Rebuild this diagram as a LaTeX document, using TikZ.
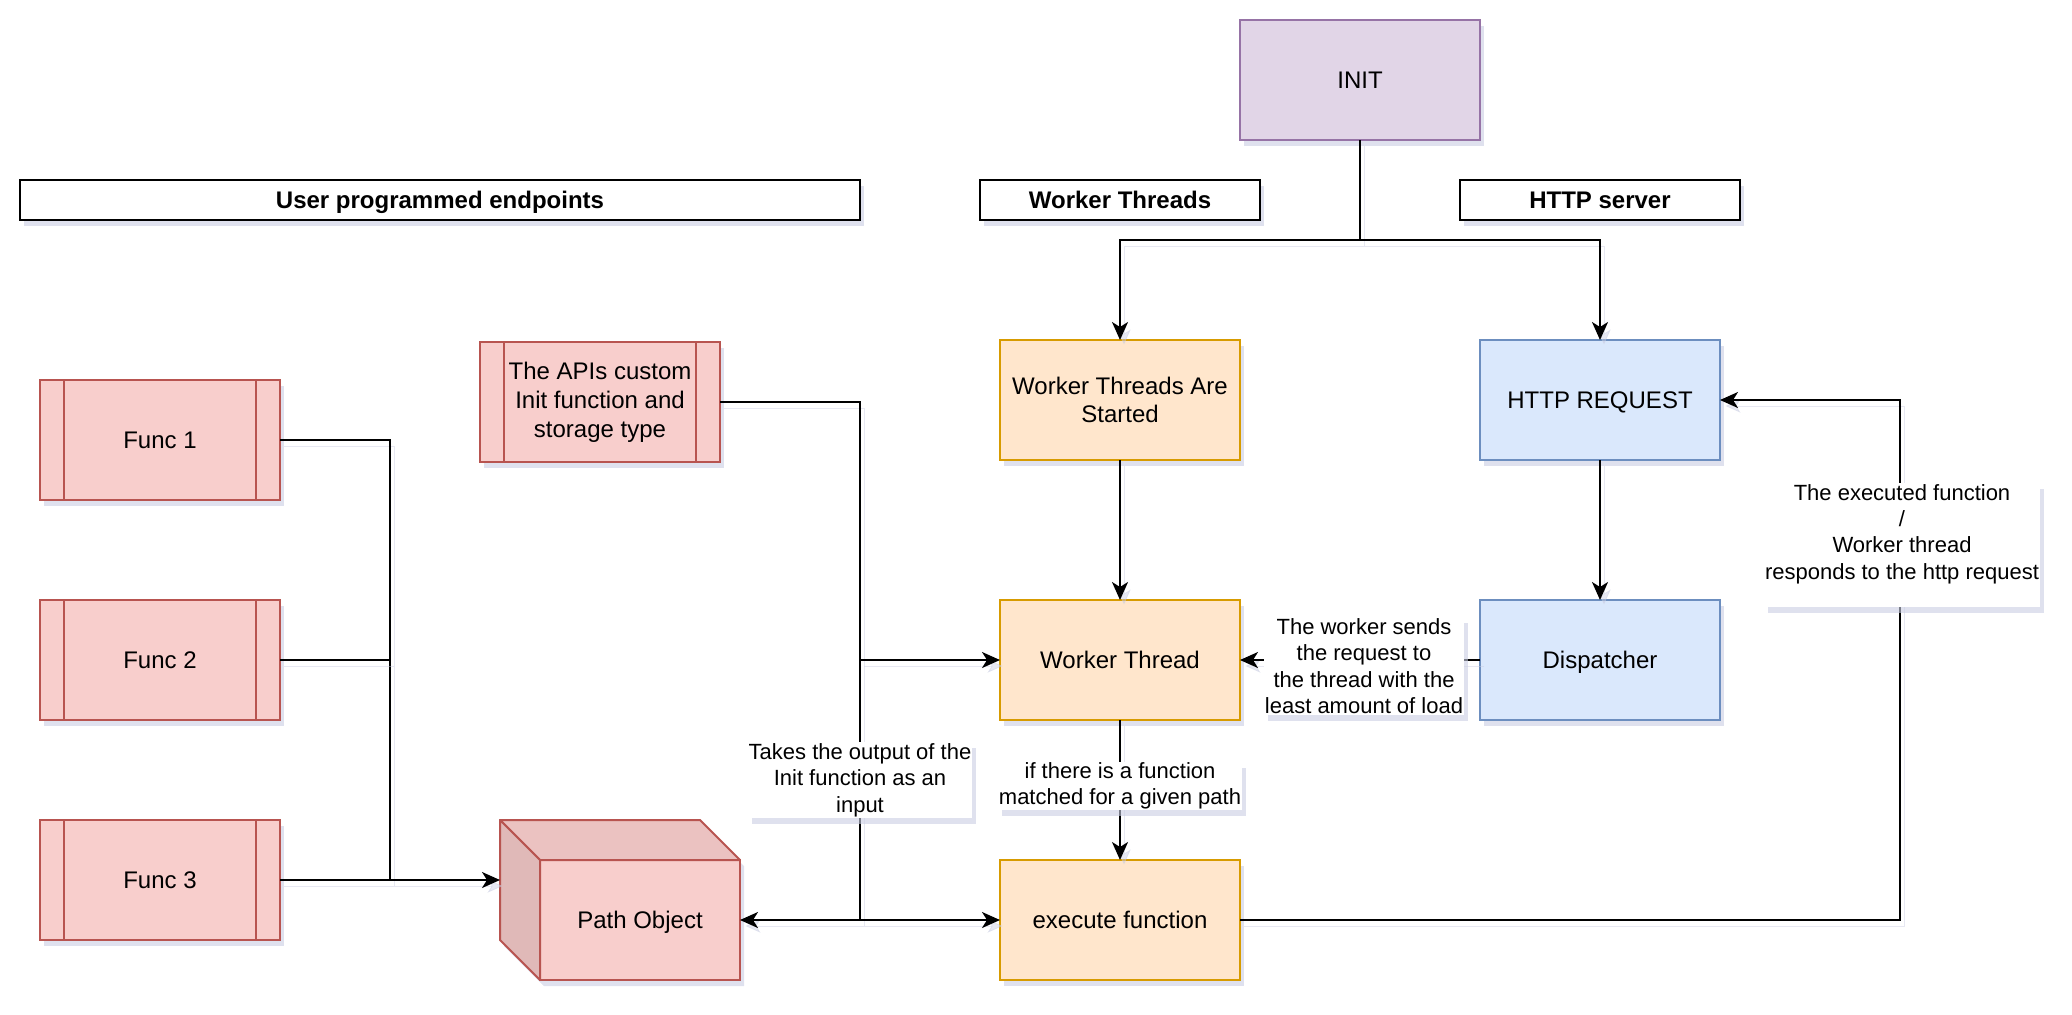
\documentclass[tikz,border=0pt]{standalone}
\usepackage{fontspec}
\setmainfont{Liberation Sans}
\usepackage{tikz}
\usetikzlibrary{positioning,arrows.meta,shadows}
\definecolor{initfill}{HTML}{E1D5E7}
\definecolor{initline}{HTML}{9673A6}
\definecolor{wrkfill}{HTML}{FFE6CC}
\definecolor{wrkline}{HTML}{D79B00}
\definecolor{srvfill}{HTML}{DAE8FC}
\definecolor{srvline}{HTML}{6C8EBF}
\definecolor{usrfill}{HTML}{F8CECC}
\definecolor{usrline}{HTML}{B85450}
\definecolor{cubetop}{HTML}{EBC2C1}
\definecolor{cubeleft}{HTML}{E0B9B8}
\definecolor{shadowc}{HTML}{C9CDE2}
\def\BoxW{120pt}
\def\BoxH{60pt}
\def\ProcBar{12pt}

\begin{document}
\begin{tikzpicture}[x=1pt,y=-1pt,
	every node/.style={font=\fontsize{12pt}{14.4pt}\selectfont,align=center},
	shad/.style={drop shadow={shadow xshift=2pt,shadow yshift=-3pt,fill=shadowc,opacity=0.6}},
	oneline/.style={text height=10.8pt,text depth=2.5pt},
	box/.style={draw,rectangle,line width=1pt,minimum width=\BoxW,minimum height=\BoxH,inner sep=1pt,outer sep=0pt,shad},
	initbox/.style={box,fill=initfill,draw=initline},
	wrkbox/.style={box,fill=wrkfill,draw=wrkline},
	srvbox/.style={box,fill=srvfill,draw=srvline},
	procbox/.style={box,fill=usrfill,draw=usrline,
		path picture={
			\draw[usrline,line width=1pt] ([xshift=\ProcBar]path picture bounding box.north west) -- ([xshift=\ProcBar]path picture bounding box.south west);
			\draw[usrline,line width=1pt] ([xshift=-\ProcBar]path picture bounding box.north east) -- ([xshift=-\ProcBar]path picture bounding box.south east);
		}},
	hdr/.style={draw=black,fill=white,line width=1pt,minimum height=20pt,inner sep=0pt,outer sep=0pt,oneline,font=\bfseries\fontsize{12pt}{14.4pt}\selectfont,shad},
	lbl/.style={fill=white,inner sep=0.5pt,font=\fontsize{11pt}{13.2pt}\selectfont,shad},
	conn/.style={line width=1pt,preaction={draw=shadowc,opacity=0.45,transform canvas={xshift=2pt,yshift=-3pt}}},
	arr/.style={conn,-{Stealth[length=9pt,width=8pt,inset=2.5pt]}}
	]
	\useasboundingbox (0,0) rectangle (1036,507);
	% headers
	\node[hdr,minimum width=420pt] (hdrusr) at (220,100) {User programmed endpoints};
	\node[hdr,minimum width=140pt] (hdrwrk) at (560,100) {Worker Threads};
	\node[hdr,minimum width=140pt] (hdrsrv) at (800,100) {HTTP server};
	% 
	\node[initbox,oneline] (init) at (680,40) {INIT};
	\node[wrkbox] (wtas) at (560,200) {Worker Threads Are\\Started};
	\node[wrkbox,oneline,below=70pt of wtas] (wthr) {Worker Thread};
	\node[wrkbox,oneline,below=70pt of wthr] (exec) {execute function};
	\node[srvbox,oneline,right=120pt of wtas] (hreq) {HTTP REQUEST};
	\node[srvbox,oneline,below=70pt of hreq] (disp) {Dispatcher};
	% user side
	\node[procbox,oneline] (func1) at (80,220) {Func 1};
	\node[procbox,oneline,below=50pt of func1] (func2) {Func 2};
	\node[procbox,oneline,below=50pt of func2] (func3) {Func 3};
	\node[procbox,yshift=-1pt] (apis) at (300,200) {The APIs custom\\Init function and\\storage type};
	% cube: silhouette for the shadow, then the faces
	\fill[shadowc,opacity=0.6,xshift=2pt,yshift=-3pt] (250,410) -- (350,410) -- (370,430) -- (370,490) -- (270,490) -- (250,470) -- cycle;
	\node[draw=usrline,fill=usrfill,line width=1pt,minimum width=100pt,minimum height=60pt,inner sep=0pt,outer sep=0pt,oneline] (path) at (320,460) {Path Object};
	\draw[usrline,fill=cubetop,line width=1pt,line join=round] (path.north west) -- ++(-20,-20) -- ++(100,0) -- (path.north east) -- cycle;
	\draw[usrline,fill=cubeleft,line width=1pt,line join=round] (path.north west) -- ++(-20,-20) -- ++(0,60) -- (path.south west) -- cycle;
	% 
	\coordinate (split) at (680,120);
	\coordinate (fbus) at (195,440);
	\coordinate (abus) at (430,460);
	\coordinate (retc) at (950,330);
	\coordinate (pathl) at ([xshift=-20pt,yshift=20pt]path.west);
	% 
	\draw[conn] (init) -- (split);
	\draw[arr] (split) -| (wtas);
	\draw[arr] (split) -| (hreq);
	\draw[arr] (wtas) -- (wthr);
	\draw[arr] (hreq) -- (disp);
	\draw[arr] (disp) -- (wthr);
	\draw[arr] (wthr) -- (exec);
	\draw[arr] (exec.east) -| (retc) |- (hreq.east);
	% 
	\draw[conn] (func1) -| (fbus);
	\draw[conn] (func2) -- (func2 -| fbus);
	\draw[arr] (func3) -- (pathl);
	\draw[conn] (apis.east) -| (abus);
	\draw[arr] (abus |- wthr) -- (wthr);
	\draw[arr] (abus) -- (path.east);
	\draw[arr] (abus) -- (exec);
	% edge labels
	\node[lbl] (lbldisp) at (682,333) {The worker sends\\the request to\\the thread with the\\least amount of load};
	\node[lbl] (lblexec) at (560,393) {if there is a function\\matched for a given path};
	\node[lbl] (lblinit) at (430,390) {Takes the output of the\\Init function as an\\input};
	\node[lbl] (lblret) at (951,272.5) {The executed function\\/\\Worker thread\\responds to the http request\\\mbox{}};
\end{tikzpicture}
\end{document}
